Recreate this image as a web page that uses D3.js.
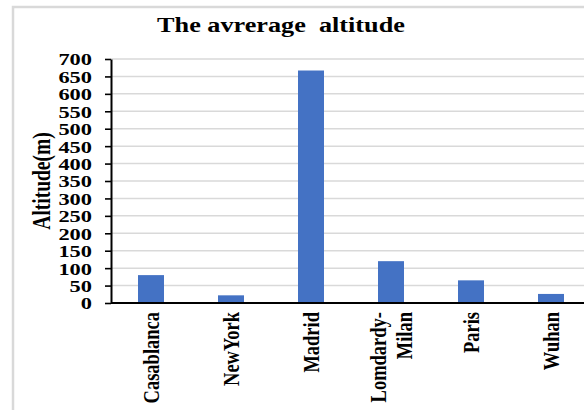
<!DOCTYPE html>
<html>
<head>
<meta charset="utf-8">
<script src="https://cdn.jsdelivr.net/npm/d3@7"></script>
<style>
  html, body { margin: 0; padding: 0; background: #fff; }
  svg { display: block; font-family: "Liberation Serif", "Times New Roman", serif; font-weight: bold; }
</style>
</head>
<body>
<svg id="chart" width="584" height="410"></svg>
<script>
// Average altitude per city (metres)
const cities = ["Casablanca", "NewYork", "Madrid", "Lomdardy-\nMilan", "Paris", "Wuhan"];
const altitudes = [80, 22, 667, 120, 65, 26];
const yTicks = [0, 50, 100, 150, 200, 250, 300, 350, 400, 450, 500, 550, 600, 650, 700];
const titleText = "The avrerage  altitude";
const yTitle = "Altitude(m)";

const svg = d3.select("#chart");
const W = 584, H = 410;
const stretch = 1.28; // wide lettering

// chart frame
svg.append("path")
  .attr("d", `M13,${H} L13,7 L${W},7`)
  .attr("fill", "none").attr("stroke", "#d9d9d9").attr("stroke-width", 2.5);

const plot = { left: 111, right: 591, top: 59, bottom: 303 };

const x = d3.scaleBand()
  .domain(cities)
  .range([plot.left, plot.right])
  .paddingInner(0.675)
  .paddingOuter(0.3375);

const y = d3.scaleLinear()
  .domain([0, 700])
  .range([plot.bottom, plot.top]);

// horizontal gridlines
svg.append("g")
  .selectAll("line")
  .data(yTicks.filter(d => d > 0))
  .join("line")
  .attr("x1", plot.left).attr("x2", W)
  .attr("y1", d => y(d)).attr("y2", d => y(d))
  .attr("stroke", "#d9d9d9").attr("stroke-width", 1.5);

// bars
svg.append("g")
  .selectAll("rect")
  .data(cities.map((c, i) => ({ c, v: altitudes[i] })))
  .join("rect")
  .attr("x", d => x(d.c))
  .attr("width", x.bandwidth())
  .attr("y", d => y(d.v))
  .attr("height", d => y(0) - y(d.v))
  .attr("fill", "#4472c4");

// y axis
const yAxis = svg.append("g")
  .attr("transform", `translate(${plot.left},0)`)
  .call(d3.axisLeft(y).tickValues(yTicks).tickSize(6).tickSizeOuter(0).tickPadding(0));
yAxis.select(".domain").attr("stroke", "#000").attr("stroke-width", 2);
yAxis.selectAll(".tick line").attr("stroke", "#000").attr("stroke-width", 1.6);
yAxis.selectAll(".tick text")
  .attr("x", null).attr("dy", "0.34em")
  .attr("transform", `translate(-19,0) scale(${stretch},1)`)
  .attr("font-size", 17.5).attr("font-weight", "bold")
  .attr("font-family", "Liberation Serif, Times New Roman, serif")
  .attr("fill", "#000");

// x axis
const xAxis = svg.append("g")
  .attr("transform", `translate(0,${plot.bottom})`)
  .call(d3.axisBottom(x).tickSize(0).tickSizeOuter(0));
xAxis.select(".domain").attr("d", `M${plot.left},0H${W}`)
  .attr("stroke", "#000").attr("stroke-width", 2);
xAxis.selectAll(".tick text").remove();
xAxis.selectAll(".tick").each(function(d) {
  const lines = d.split("\n");
  const lineGap = 21;
  const t = d3.select(this).append("text")
    .attr("transform", `translate(0,9) scale(${stretch},1) rotate(-90)`)
    .attr("text-anchor", "end")
    .attr("font-size", 18.5).attr("font-weight", "bold")
    .attr("font-family", "Liberation Serif, Times New Roman, serif")
    .attr("fill", "#000");
  lines.forEach((ln, i) => {
    t.append("tspan")
      .attr("x", 0)
      .attr("y", (i - (lines.length - 1) / 2) * lineGap)
      .attr("dy", "0.34em")
      .text(ln);
  });
});

// titles
svg.append("text")
  .attr("transform", `translate(281,32) scale(1.22,1)`)
  .attr("text-anchor", "middle")
  .attr("font-size", 21.5)
  .style("white-space", "pre")
  .attr("fill", "#000")
  .text(titleText);

svg.append("text")
  .attr("transform", `translate(42,181) scale(${stretch},1) rotate(-90)`)
  .attr("text-anchor", "middle")
  .attr("dy", "0.34em")
  .attr("font-size", 19.5)
  .attr("fill", "#000")
  .text(yTitle);
</script>
</body>
</html>
